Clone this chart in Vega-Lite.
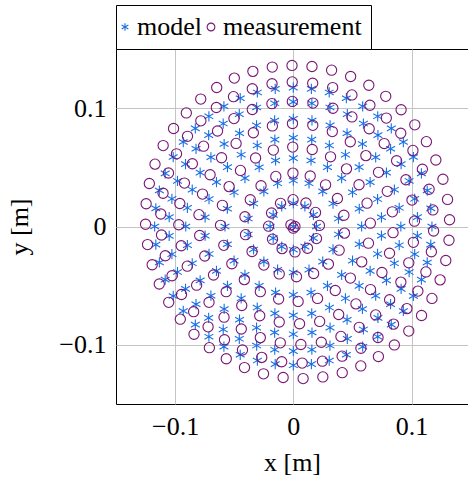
{
"$schema": "https://vega.github.io/schema/vega-lite/v6.json",
"autosize": {"type": "none"},
"padding": {"left": 116, "top": 49, "right": 0, "bottom": 75},
"width": 352,
"height": 355,
"config": {
  "font": "Liberation Serif",
  "view": {"stroke": "#000000", "strokeWidth": 1},
  "axis": {"labelFontSize": 26, "titleFontSize": 26, "titleFontWeight": "normal", "labelColor": "#000", "titleColor": "#000", "gridColor": "#c4c4c4", "gridWidth": 1, "ticks": false, "domain": false, "labelFont": "Liberation Serif", "titleFont": "Liberation Serif"},
  "legend": {"orient": "none", "legendX": 0, "legendY": -44, "direction": "horizontal", "fillColor": "#ffffff", "strokeColor": "#000000", "padding": 9, "labelFontSize": 26, "labelFont": "Liberation Serif", "labelColor": "#000", "symbolSize": 60, "symbolStrokeWidth": 1.1, "labelOffset": -1, "columnPadding": 2, "cornerRadius": 0, "symbolOffset": -13}
},
"data": {"values": [
{"s":"model","x":0,"y":0},
{"s":"model","x":0.0196,"y":0},{"s":"model","x":0.017,"y":0.0098},{"s":"model","x":0.0098,"y":0.017},{"s":"model","x":0,"y":0.0196},{"s":"model","x":-0.0098,"y":0.017},{"s":"model","x":-0.017,"y":0.0098},{"s":"model","x":-0.0196,"y":0},{"s":"model","x":-0.017,"y":-0.0098},{"s":"model","x":-0.0098,"y":-0.017},{"s":"model","x":0,"y":-0.0196},{"s":"model","x":0.0098,"y":-0.017},{"s":"model","x":0.017,"y":-0.0098},
{"s":"model","x":0.0382,"y":0.0067},{"s":"model","x":0.0336,"y":0.0194},{"s":"model","x":0.0249,"y":0.0297},{"s":"model","x":0.0133,"y":0.0365},{"s":"model","x":0,"y":0.0388},{"s":"model","x":-0.0133,"y":0.0365},{"s":"model","x":-0.0249,"y":0.0297},{"s":"model","x":-0.0336,"y":0.0194},{"s":"model","x":-0.0382,"y":0.0067},{"s":"model","x":-0.0382,"y":-0.0067},{"s":"model","x":-0.0336,"y":-0.0194},{"s":"model","x":-0.0249,"y":-0.0297},{"s":"model","x":-0.0133,"y":-0.0365},{"s":"model","x":0,"y":-0.0388},{"s":"model","x":0.0133,"y":-0.0365},{"s":"model","x":0.0249,"y":-0.0297},{"s":"model","x":0.0336,"y":-0.0194},{"s":"model","x":0.0382,"y":-0.0067},
{"s":"model","x":0.0578,"y":0},{"s":"model","x":0.0558,"y":0.015},{"s":"model","x":0.0501,"y":0.0289},{"s":"model","x":0.0409,"y":0.0409},{"s":"model","x":0.0289,"y":0.0501},{"s":"model","x":0.015,"y":0.0558},{"s":"model","x":0,"y":0.0578},{"s":"model","x":-0.015,"y":0.0558},{"s":"model","x":-0.0289,"y":0.0501},{"s":"model","x":-0.0409,"y":0.0409},{"s":"model","x":-0.0501,"y":0.0289},{"s":"model","x":-0.0558,"y":0.015},{"s":"model","x":-0.0578,"y":0},{"s":"model","x":-0.0558,"y":-0.015},{"s":"model","x":-0.0501,"y":-0.0289},{"s":"model","x":-0.0409,"y":-0.0409},{"s":"model","x":-0.0289,"y":-0.0501},{"s":"model","x":-0.015,"y":-0.0558},{"s":"model","x":0,"y":-0.0578},{"s":"model","x":0.015,"y":-0.0558},{"s":"model","x":0.0289,"y":-0.0501},{"s":"model","x":0.0409,"y":-0.0409},{"s":"model","x":0.0501,"y":-0.0289},{"s":"model","x":0.0558,"y":-0.015},
{"s":"model","x":0.0746,"y":0.0078},{"s":"model","x":0.0713,"y":0.0232},{"s":"model","x":0.065,"y":0.0375},{"s":"model","x":0.0557,"y":0.0502},{"s":"model","x":0.0441,"y":0.0607},{"s":"model","x":0.0305,"y":0.0685},{"s":"model","x":0.0156,"y":0.0734},{"s":"model","x":0,"y":0.075},{"s":"model","x":-0.0156,"y":0.0734},{"s":"model","x":-0.0305,"y":0.0685},{"s":"model","x":-0.0441,"y":0.0607},{"s":"model","x":-0.0557,"y":0.0502},{"s":"model","x":-0.065,"y":0.0375},{"s":"model","x":-0.0713,"y":0.0232},{"s":"model","x":-0.0746,"y":0.0078},{"s":"model","x":-0.0746,"y":-0.0078},{"s":"model","x":-0.0713,"y":-0.0232},{"s":"model","x":-0.065,"y":-0.0375},{"s":"model","x":-0.0557,"y":-0.0502},{"s":"model","x":-0.0441,"y":-0.0607},{"s":"model","x":-0.0305,"y":-0.0685},{"s":"model","x":-0.0156,"y":-0.0734},{"s":"model","x":0,"y":-0.075},{"s":"model","x":0.0156,"y":-0.0734},{"s":"model","x":0.0305,"y":-0.0685},{"s":"model","x":0.0441,"y":-0.0607},{"s":"model","x":0.0557,"y":-0.0502},{"s":"model","x":0.065,"y":-0.0375},{"s":"model","x":0.0713,"y":-0.0232},{"s":"model","x":0.0746,"y":-0.0078},
{"s":"model","x":0.091,"y":0},{"s":"model","x":0.0896,"y":0.0158},{"s":"model","x":0.0855,"y":0.0311},{"s":"model","x":0.0788,"y":0.0455},{"s":"model","x":0.0697,"y":0.0585},{"s":"model","x":0.0585,"y":0.0697},{"s":"model","x":0.0455,"y":0.0788},{"s":"model","x":0.0311,"y":0.0855},{"s":"model","x":0.0158,"y":0.0896},{"s":"model","x":0,"y":0.091},{"s":"model","x":-0.0158,"y":0.0896},{"s":"model","x":-0.0311,"y":0.0855},{"s":"model","x":-0.0455,"y":0.0788},{"s":"model","x":-0.0585,"y":0.0697},{"s":"model","x":-0.0697,"y":0.0585},{"s":"model","x":-0.0788,"y":0.0455},{"s":"model","x":-0.0855,"y":0.0311},{"s":"model","x":-0.0896,"y":0.0158},{"s":"model","x":-0.091,"y":0},{"s":"model","x":-0.0896,"y":-0.0158},{"s":"model","x":-0.0855,"y":-0.0311},{"s":"model","x":-0.0788,"y":-0.0455},{"s":"model","x":-0.0697,"y":-0.0585},{"s":"model","x":-0.0585,"y":-0.0697},{"s":"model","x":-0.0455,"y":-0.0788},{"s":"model","x":-0.0311,"y":-0.0855},{"s":"model","x":-0.0158,"y":-0.0896},{"s":"model","x":0,"y":-0.091},{"s":"model","x":0.0158,"y":-0.0896},{"s":"model","x":0.0311,"y":-0.0855},{"s":"model","x":0.0455,"y":-0.0788},{"s":"model","x":0.0585,"y":-0.0697},{"s":"model","x":0.0697,"y":-0.0585},{"s":"model","x":0.0788,"y":-0.0455},{"s":"model","x":0.0855,"y":-0.0311},{"s":"model","x":0.0896,"y":-0.0158},
{"s":"model","x":0.105,"y":0.0079},{"s":"model","x":0.1027,"y":0.0234},{"s":"model","x":0.098,"y":0.0385},{"s":"model","x":0.0912,"y":0.0527},{"s":"model","x":0.0823,"y":0.0657},{"s":"model","x":0.0716,"y":0.0772},{"s":"model","x":0.0593,"y":0.087},{"s":"model","x":0.0457,"y":0.0949},{"s":"model","x":0.031,"y":0.1006},{"s":"model","x":0.0157,"y":0.1041},{"s":"model","x":0,"y":0.1053},{"s":"model","x":-0.0157,"y":0.1041},{"s":"model","x":-0.031,"y":0.1006},{"s":"model","x":-0.0457,"y":0.0949},{"s":"model","x":-0.0593,"y":0.087},{"s":"model","x":-0.0716,"y":0.0772},{"s":"model","x":-0.0823,"y":0.0657},{"s":"model","x":-0.0912,"y":0.0527},{"s":"model","x":-0.098,"y":0.0385},{"s":"model","x":-0.1027,"y":0.0234},{"s":"model","x":-0.105,"y":0.0079},{"s":"model","x":-0.105,"y":-0.0079},{"s":"model","x":-0.1027,"y":-0.0234},{"s":"model","x":-0.098,"y":-0.0385},{"s":"model","x":-0.0912,"y":-0.0527},{"s":"model","x":-0.0823,"y":-0.0657},{"s":"model","x":-0.0716,"y":-0.0772},{"s":"model","x":-0.0593,"y":-0.087},{"s":"model","x":-0.0457,"y":-0.0949},{"s":"model","x":-0.031,"y":-0.1006},{"s":"model","x":-0.0157,"y":-0.1041},{"s":"model","x":0,"y":-0.1053},{"s":"model","x":0.0157,"y":-0.1041},{"s":"model","x":0.031,"y":-0.1006},{"s":"model","x":0.0457,"y":-0.0949},{"s":"model","x":0.0593,"y":-0.087},{"s":"model","x":0.0716,"y":-0.0772},{"s":"model","x":0.0823,"y":-0.0657},{"s":"model","x":0.0912,"y":-0.0527},{"s":"model","x":0.098,"y":-0.0385},{"s":"model","x":0.1027,"y":-0.0234},{"s":"model","x":0.105,"y":-0.0079},
{"s":"model","x":0.1173,"y":0},{"s":"model","x":0.1163,"y":0.0153},{"s":"model","x":0.1133,"y":0.0304},{"s":"model","x":0.1084,"y":0.0449},{"s":"model","x":0.1016,"y":0.0587},{"s":"model","x":0.0931,"y":0.0714},{"s":"model","x":0.0829,"y":0.0829},{"s":"model","x":0.0714,"y":0.0931},{"s":"model","x":0.0587,"y":0.1016},{"s":"model","x":0.0449,"y":0.1084},{"s":"model","x":0.0304,"y":0.1133},{"s":"model","x":0.0153,"y":0.1163},{"s":"model","x":0,"y":0.1173},{"s":"model","x":-0.0153,"y":0.1163},{"s":"model","x":-0.0304,"y":0.1133},{"s":"model","x":-0.0449,"y":0.1084},{"s":"model","x":-0.0587,"y":0.1016},{"s":"model","x":-0.0714,"y":0.0931},{"s":"model","x":-0.0829,"y":0.0829},{"s":"model","x":-0.0931,"y":0.0714},{"s":"model","x":-0.1016,"y":0.0587},{"s":"model","x":-0.1084,"y":0.0449},{"s":"model","x":-0.1133,"y":0.0304},{"s":"model","x":-0.1163,"y":0.0153},{"s":"model","x":-0.1173,"y":0},{"s":"model","x":-0.1163,"y":-0.0153},{"s":"model","x":-0.1133,"y":-0.0304},{"s":"model","x":-0.1084,"y":-0.0449},{"s":"model","x":-0.1016,"y":-0.0587},{"s":"model","x":-0.0931,"y":-0.0714},{"s":"model","x":-0.0829,"y":-0.0829},{"s":"model","x":-0.0714,"y":-0.0931},{"s":"model","x":-0.0587,"y":-0.1016},{"s":"model","x":-0.0449,"y":-0.1084},{"s":"model","x":-0.0304,"y":-0.1133},{"s":"model","x":-0.0153,"y":-0.1163},{"s":"model","x":0,"y":-0.1173},{"s":"model","x":0.0153,"y":-0.1163},{"s":"model","x":0.0304,"y":-0.1133},{"s":"model","x":0.0449,"y":-0.1084},{"s":"model","x":0.0587,"y":-0.1016},{"s":"model","x":0.0714,"y":-0.0931},{"s":"model","x":0.0829,"y":-0.0829},{"s":"model","x":0.0931,"y":-0.0714},{"s":"model","x":0.1016,"y":-0.0587},{"s":"model","x":0.1084,"y":-0.0449},{"s":"model","x":0.1133,"y":-0.0304},{"s":"model","x":0.1163,"y":-0.0153},
{"s":"measurement","x":-0.002,"y":0.0014},{"s":"measurement","x":0.0014,"y":0},{"s":"measurement","x":0,"y":-0.0014},
{"s":"measurement","x":0.0221,"y":0.0009},{"s":"measurement","x":0.0188,"y":0.0119},{"s":"measurement","x":0.0107,"y":0.0199},{"s":"measurement","x":-0.0002,"y":0.0227},{"s":"measurement","x":-0.0108,"y":0.0196},{"s":"measurement","x":-0.0184,"y":0.0114},{"s":"measurement","x":-0.0209,"y":0.0003},{"s":"measurement","x":-0.0176,"y":-0.0107},{"s":"measurement","x":-0.0095,"y":-0.0187},{"s":"measurement","x":0.0014,"y":-0.0215},{"s":"measurement","x":0.012,"y":-0.0184},{"s":"measurement","x":0.0196,"y":-0.0102},
{"s":"measurement","x":0.0428,"y":0.0095},{"s":"measurement","x":0.0373,"y":0.0237},{"s":"measurement","x":0.0273,"y":0.0352},{"s":"measurement","x":0.0143,"y":0.0427},{"s":"measurement","x":-0.0003,"y":0.0451},{"s":"measurement","x":-0.0148,"y":0.0423},{"s":"measurement","x":-0.0273,"y":0.0344},{"s":"measurement","x":-0.0364,"y":0.0226},{"s":"measurement","x":-0.0409,"y":0.0082},{"s":"measurement","x":-0.0404,"y":-0.0069},{"s":"measurement","x":-0.0349,"y":-0.0211},{"s":"measurement","x":-0.0249,"y":-0.0326},{"s":"measurement","x":-0.0119,"y":-0.0401},{"s":"measurement","x":0.0027,"y":-0.0425},{"s":"measurement","x":0.0172,"y":-0.0397},{"s":"measurement","x":0.0297,"y":-0.0318},{"s":"measurement","x":0.0388,"y":-0.02},{"s":"measurement","x":0.0433,"y":-0.0056},
{"s":"measurement","x":0.0652,"y":0.0028},{"s":"measurement","x":0.0624,"y":0.0197},{"s":"measurement","x":0.0556,"y":0.0353},{"s":"measurement","x":0.045,"y":0.0487},{"s":"measurement","x":0.0315,"y":0.0589},{"s":"measurement","x":0.016,"y":0.0651},{"s":"measurement","x":-0.0005,"y":0.0671},{"s":"measurement","x":-0.0169,"y":0.0646},{"s":"measurement","x":-0.0319,"y":0.0579},{"s":"measurement","x":-0.0447,"y":0.0474},{"s":"measurement","x":-0.0543,"y":0.0337},{"s":"measurement","x":-0.06,"y":0.0179},{"s":"measurement","x":-0.0616,"y":0.001},{"s":"measurement","x":-0.0588,"y":-0.0159},{"s":"measurement","x":-0.052,"y":-0.0315},{"s":"measurement","x":-0.0414,"y":-0.0449},{"s":"measurement","x":-0.0279,"y":-0.0551},{"s":"measurement","x":-0.0124,"y":-0.0613},{"s":"measurement","x":0.0041,"y":-0.0633},{"s":"measurement","x":0.0205,"y":-0.0608},{"s":"measurement","x":0.0355,"y":-0.0541},{"s":"measurement","x":0.0483,"y":-0.0436},{"s":"measurement","x":0.0579,"y":-0.0299},{"s":"measurement","x":0.0636,"y":-0.0141},
{"s":"measurement","x":0.0838,"y":0.0124},{"s":"measurement","x":0.0795,"y":0.0297},{"s":"measurement","x":0.0721,"y":0.0458},{"s":"measurement","x":0.0614,"y":0.0599},{"s":"measurement","x":0.0482,"y":0.0716},{"s":"measurement","x":0.033,"y":0.0802},{"s":"measurement","x":0.0165,"y":0.0855},{"s":"measurement","x":-0.0007,"y":0.087},{"s":"measurement","x":-0.0177,"y":0.085},{"s":"measurement","x":-0.0338,"y":0.0792},{"s":"measurement","x":-0.0484,"y":0.0702},{"s":"measurement","x":-0.0607,"y":0.0581},{"s":"measurement","x":-0.0704,"y":0.0437},{"s":"measurement","x":-0.0768,"y":0.0274},{"s":"measurement","x":-0.0798,"y":0.01},{"s":"measurement","x":-0.0792,"y":-0.0076},{"s":"measurement","x":-0.0749,"y":-0.0249},{"s":"measurement","x":-0.0675,"y":-0.041},{"s":"measurement","x":-0.0568,"y":-0.0551},{"s":"measurement","x":-0.0436,"y":-0.0668},{"s":"measurement","x":-0.0284,"y":-0.0754},{"s":"measurement","x":-0.0119,"y":-0.0807},{"s":"measurement","x":0.0053,"y":-0.0822},{"s":"measurement","x":0.0223,"y":-0.0802},{"s":"measurement","x":0.0384,"y":-0.0744},{"s":"measurement","x":0.053,"y":-0.0654},{"s":"measurement","x":0.0653,"y":-0.0533},{"s":"measurement","x":0.075,"y":-0.0389},{"s":"measurement","x":0.0814,"y":-0.0226},{"s":"measurement","x":0.0844,"y":-0.0052},
{"s":"measurement","x":0.1025,"y":0.0045},{"s":"measurement","x":0.1004,"y":0.0223},{"s":"measurement","x":0.0953,"y":0.0395},{"s":"measurement","x":0.0874,"y":0.0556},{"s":"measurement","x":0.0769,"y":0.0701},{"s":"measurement","x":0.0642,"y":0.0826},{"s":"measurement","x":0.0496,"y":0.0926},{"s":"measurement","x":0.0335,"y":0.0999},{"s":"measurement","x":0.0166,"y":0.1043},{"s":"measurement","x":-0.0008,"y":0.1057},{"s":"measurement","x":-0.0181,"y":0.1038},{"s":"measurement","x":-0.0347,"y":0.0989},{"s":"measurement","x":-0.0502,"y":0.0912},{"s":"measurement","x":-0.0641,"y":0.0807},{"s":"measurement","x":-0.0759,"y":0.0679},{"s":"measurement","x":-0.0854,"y":0.053},{"s":"measurement","x":-0.0921,"y":0.0367},{"s":"measurement","x":-0.096,"y":0.0194},{"s":"measurement","x":-0.0969,"y":0.0015},{"s":"measurement","x":-0.0948,"y":-0.0163},{"s":"measurement","x":-0.0897,"y":-0.0335},{"s":"measurement","x":-0.0818,"y":-0.0496},{"s":"measurement","x":-0.0713,"y":-0.0641},{"s":"measurement","x":-0.0586,"y":-0.0766},{"s":"measurement","x":-0.044,"y":-0.0866},{"s":"measurement","x":-0.0279,"y":-0.0939},{"s":"measurement","x":-0.011,"y":-0.0983},{"s":"measurement","x":0.0064,"y":-0.0997},{"s":"measurement","x":0.0237,"y":-0.0978},{"s":"measurement","x":0.0403,"y":-0.0929},{"s":"measurement","x":0.0558,"y":-0.0852},{"s":"measurement","x":0.0697,"y":-0.0747},{"s":"measurement","x":0.0815,"y":-0.0619},{"s":"measurement","x":0.091,"y":-0.047},{"s":"measurement","x":0.0977,"y":-0.0307},{"s":"measurement","x":0.1016,"y":-0.0134},
{"s":"measurement","x":0.1181,"y":0.014},{"s":"measurement","x":0.1149,"y":0.0315},{"s":"measurement","x":0.1092,"y":0.0484},{"s":"measurement","x":0.1012,"y":0.0643},{"s":"measurement","x":0.0909,"y":0.0788},{"s":"measurement","x":0.0787,"y":0.0916},{"s":"measurement","x":0.0648,"y":0.1025},{"s":"measurement","x":0.0496,"y":0.1112},{"s":"measurement","x":0.0333,"y":0.1174},{"s":"measurement","x":0.0164,"y":0.1211},{"s":"measurement","x":-0.0009,"y":0.1222},{"s":"measurement","x":-0.018,"y":0.1206},{"s":"measurement","x":-0.0347,"y":0.1164},{"s":"measurement","x":-0.0506,"y":0.1097},{"s":"measurement","x":-0.0651,"y":0.1006},{"s":"measurement","x":-0.0782,"y":0.0893},{"s":"measurement","x":-0.0895,"y":0.0762},{"s":"measurement","x":-0.0988,"y":0.0614},{"s":"measurement","x":-0.1056,"y":0.0452},{"s":"measurement","x":-0.1102,"y":0.0281},{"s":"measurement","x":-0.1121,"y":0.0106},{"s":"measurement","x":-0.1115,"y":-0.0072},{"s":"measurement","x":-0.1083,"y":-0.0247},{"s":"measurement","x":-0.1026,"y":-0.0416},{"s":"measurement","x":-0.0946,"y":-0.0575},{"s":"measurement","x":-0.0843,"y":-0.072},{"s":"measurement","x":-0.0721,"y":-0.0848},{"s":"measurement","x":-0.0582,"y":-0.0957},{"s":"measurement","x":-0.043,"y":-0.1044},{"s":"measurement","x":-0.0267,"y":-0.1106},{"s":"measurement","x":-0.0098,"y":-0.1143},{"s":"measurement","x":0.0075,"y":-0.1154},{"s":"measurement","x":0.0246,"y":-0.1138},{"s":"measurement","x":0.0413,"y":-0.1096},{"s":"measurement","x":0.0572,"y":-0.1029},{"s":"measurement","x":0.0717,"y":-0.0938},{"s":"measurement","x":0.0848,"y":-0.0825},{"s":"measurement","x":0.0961,"y":-0.0694},{"s":"measurement","x":0.1054,"y":-0.0546},{"s":"measurement","x":0.1122,"y":-0.0384},{"s":"measurement","x":0.1168,"y":-0.0213},{"s":"measurement","x":0.1187,"y":-0.0038},
{"s":"measurement","x":0.1322,"y":0.0057},{"s":"measurement","x":0.1305,"y":0.0229},{"s":"measurement","x":0.1266,"y":0.0399},{"s":"measurement","x":0.1206,"y":0.0562},{"s":"measurement","x":0.1126,"y":0.0717},{"s":"measurement","x":0.1028,"y":0.0859},{"s":"measurement","x":0.0912,"y":0.0987},{"s":"measurement","x":0.0782,"y":0.11},{"s":"measurement","x":0.0639,"y":0.1194},{"s":"measurement","x":0.0485,"y":0.1268},{"s":"measurement","x":0.0324,"y":0.1321},{"s":"measurement","x":0.0158,"y":0.1352},{"s":"measurement","x":-0.0011,"y":0.1361},{"s":"measurement","x":-0.0178,"y":0.1347},{"s":"measurement","x":-0.0342,"y":0.1311},{"s":"measurement","x":-0.0499,"y":0.1254},{"s":"measurement","x":-0.0648,"y":0.1175},{"s":"measurement","x":-0.0783,"y":0.1077},{"s":"measurement","x":-0.0905,"y":0.096},{"s":"measurement","x":-0.1013,"y":0.0828},{"s":"measurement","x":-0.1101,"y":0.0684},{"s":"measurement","x":-0.117,"y":0.0527},{"s":"measurement","x":-0.1218,"y":0.0363},{"s":"measurement","x":-0.1245,"y":0.0192},{"s":"measurement","x":-0.125,"y":0.0019},{"s":"measurement","x":-0.1233,"y":-0.0153},{"s":"measurement","x":-0.1194,"y":-0.0323},{"s":"measurement","x":-0.1134,"y":-0.0486},{"s":"measurement","x":-0.1054,"y":-0.0641},{"s":"measurement","x":-0.0956,"y":-0.0783},{"s":"measurement","x":-0.084,"y":-0.0911},{"s":"measurement","x":-0.071,"y":-0.1024},{"s":"measurement","x":-0.0567,"y":-0.1118},{"s":"measurement","x":-0.0413,"y":-0.1192},{"s":"measurement","x":-0.0252,"y":-0.1245},{"s":"measurement","x":-0.0086,"y":-0.1276},{"s":"measurement","x":0.0083,"y":-0.1285},{"s":"measurement","x":0.025,"y":-0.1271},{"s":"measurement","x":0.0414,"y":-0.1235},{"s":"measurement","x":0.0571,"y":-0.1178},{"s":"measurement","x":0.072,"y":-0.1099},{"s":"measurement","x":0.0855,"y":-0.1001},{"s":"measurement","x":0.0977,"y":-0.0884},{"s":"measurement","x":0.1085,"y":-0.0752},{"s":"measurement","x":0.1173,"y":-0.0608},{"s":"measurement","x":0.1242,"y":-0.0451},{"s":"measurement","x":0.129,"y":-0.0287},{"s":"measurement","x":0.1317,"y":-0.0116}
]},
"mark": {"type": "point", "filled": false, "strokeWidth": 1.1, "opacity": 1, "clip": true, "size": 105},
"encoding": {
  "x": {"field": "x", "type": "quantitative", "scale": {"domain": [-0.15, 0.1478], "nice": false, "zero": false}, "axis": {"values": [-0.1, 0, 0.1], "format": ".1~f", "grid": true, "labelPadding": 9, "title": "x [m]", "titlePadding": 10}},
  "y": {"field": "y", "type": "quantitative", "scale": {"domain": [-0.15, 0.15], "nice": false, "zero": false}, "axis": {"values": [-0.1, 0, 0.1], "format": ".1~f", "grid": true, "labelPadding": 10, "title": "y [m]", "titlePadding": 26}},
  "shape": {"field": "s", "type": "nominal", "scale": {"domain": ["model", "measurement"], "range": ["M0,-1L0,1M-0.866,-0.5L0.866,0.5M-0.866,0.5L0.866,-0.5", "circle"]}, "legend": {"title": null}},
  "color": {"field": "s", "type": "nominal", "scale": {"domain": ["model", "measurement"], "range": ["#1a6fe6", "#7a1675"]}, "legend": {"title": null}},
  "order": {"field": "s", "type": "nominal", "sort": "descending"}
}
}
